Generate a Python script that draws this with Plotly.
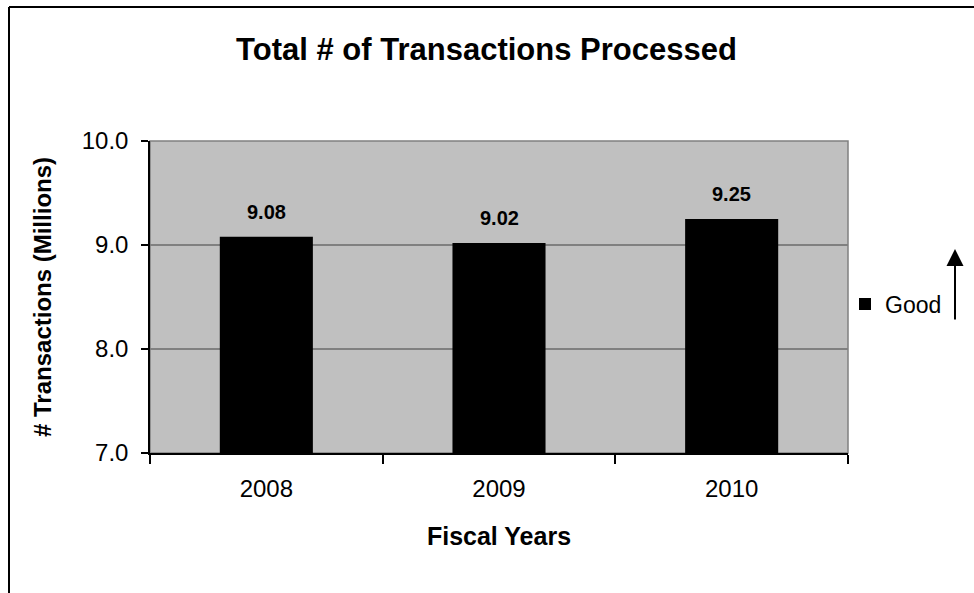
import plotly.graph_objects as go

# Fiscal-year transaction totals (millions)
years = ["2008", "2009", "2010"]
transactions = [9.08, 9.02, 9.25]
y_ticks = [7.0, 8.0, 9.0, 10.0]
y_tick_labels = ["7.0", "8.0", "9.0", "10.0"]

FONT = "Liberation Sans, Arial, sans-serif"

fig = go.Figure()
fig.add_trace(go.Bar(
    x=years,
    y=transactions,
    name="Good",
    marker=dict(color="#000000", line=dict(width=0)),
    width=0.4,
    showlegend=True,
    hoverinfo="x+y",
))

# value labels above each bar (category index on the x axis)
for i, v in enumerate(transactions):
    fig.add_annotation(
        x=i, y=v, xref="x", yref="y",
        text=f"<b>{v:.2f}</b>", showarrow=False,
        yanchor="middle", yshift=25,
        font=dict(family=FONT, size=20, color="#000000"),
    )

# "higher is better" arrow beside the legend
fig.add_annotation(
    xref="paper", yref="paper",
    x=(955 - 150) / 698, y=(453 - 249) / 312,
    ax=0, ay=72, axref="pixel", ayref="pixel",
    text="", showarrow=True,
    arrowhead=2, arrowsize=1.7, arrowwidth=2, arrowcolor="#000000",
)

# plot-area frame (top and right edges grey)
fig.add_shape(
    type="rect", xref="x domain", yref="y domain",
    x0=0, x1=1, y0=0, y1=1,
    line=dict(color="#808080", width=1.5), layer="below",
)

# outer chart border: top and left edges
fig.add_shape(
    type="line", xref="paper", yref="paper",
    x0=(9 - 150) / 698, x1=(980 - 150) / 698,
    y0=(453 - 7) / 312, y1=(453 - 7) / 312,
    line=dict(color="#000000", width=2),
)
fig.add_shape(
    type="line", xref="paper", yref="paper",
    x0=(9 - 150) / 698, x1=(9 - 150) / 698,
    y0=(453 - 7) / 312, y1=(453 - 600) / 312,
    line=dict(color="#000000", width=2),
)

fig.update_layout(
    width=974, height=593,
    margin=dict(l=150, r=126, t=141, b=140),
    paper_bgcolor="#FFFFFF",
    plot_bgcolor="#C0C0C0",
    bargap=0.6,
    font=dict(family=FONT, color="#000000"),
    title=dict(
        text="<b>Total # of Transactions Processed</b>",
        x=486.5 / 974, xanchor="center",
        y=1 - 49 / 593, yanchor="middle", yref="container",
        font=dict(family=FONT, size=31, color="#000000"),
    ),
    legend=dict(
        x=(845 - 150) / 698, y=(453 - 304) / 312,
        xanchor="left", yanchor="middle",
        bgcolor="rgba(0,0,0,0)",
        font=dict(family=FONT, size=23, color="#000000"),
    ),
    xaxis=dict(
        type="category",
        range=[-0.5, 2.5],
        showline=True, linecolor="#000000", linewidth=1.5,
        ticks="outside", ticklen=9, tickcolor="#000000", tickwidth=1.5,
        tickson="boundaries",
        ticklabelstandoff=13,
        tickangle=0,
        tickfont=dict(family=FONT, size=24, color="#000000"),
        showgrid=False,
        title=dict(text="<b>Fiscal Years</b>", standoff=27,
                   font=dict(family=FONT, size=25, color="#000000")),
    ),
    yaxis=dict(
        range=[7.0, 10.0],
        tickvals=y_ticks, ticktext=y_tick_labels,
        showline=True, linecolor="#000000", linewidth=1.5,
        ticks="outside", ticklen=7, tickcolor="#000000", tickwidth=1.5,
        ticklabelstandoff=8,
        tickfont=dict(family=FONT, size=24, color="#000000"),
        showgrid=True, gridcolor="#808080", gridwidth=1.5,
        zeroline=False,
        title=dict(text="<b># Transactions (Millions)</b>", standoff=23,
                   font=dict(family=FONT, size=24, color="#000000")),
    ),
)

fig.write_html("out.html")
